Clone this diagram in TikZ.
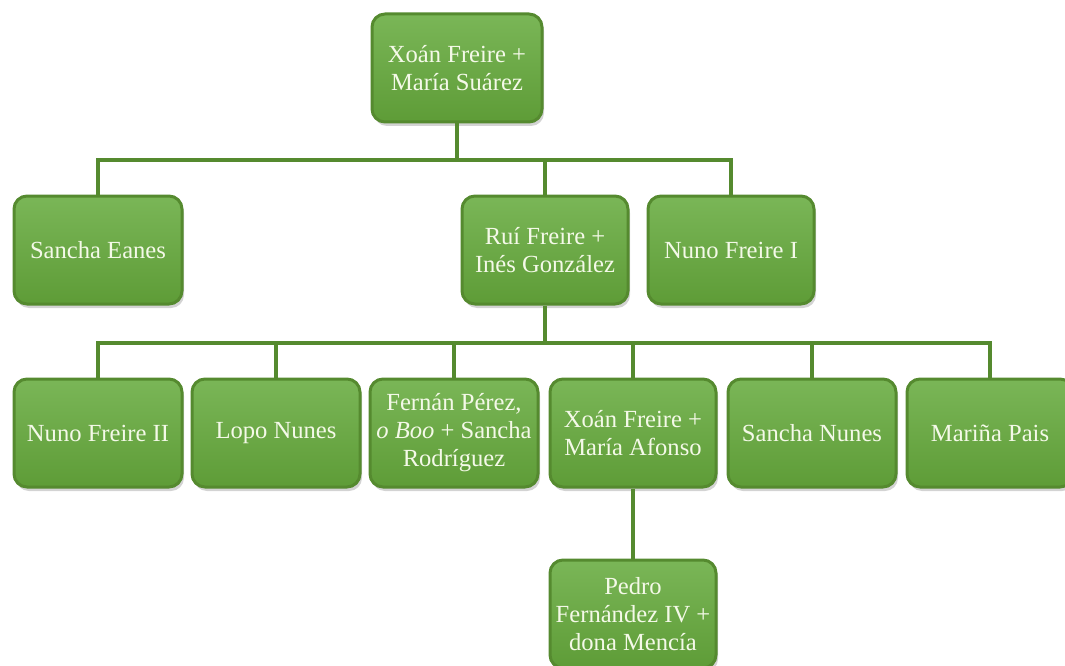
\documentclass[tikz,border=0pt]{standalone}
\usepackage{fontspec}
\setmainfont{Liberation Serif}
\usetikzlibrary{shadows}
\definecolor{boxtop}{HTML}{7AB657}
\definecolor{boxbot}{HTML}{5E9C37}
\definecolor{boxline}{HTML}{558A2F}
\definecolor{linkgreen}{HTML}{558A2F}
\definecolor{textcream}{HTML}{F4F9E8}
\tikzset{
  person/.style={draw=boxline, line width=3pt, rounded corners=13pt,
    top color=boxtop, bottom color=boxbot, text=textcream,
    minimum width=166pt, minimum height=108pt, align=center, inner sep=2pt,
    font=\fontsize{24.6}{28}\selectfont,
    drop shadow={opacity=0.35, shadow xshift=2pt, shadow yshift=-4pt}},
  link/.style={draw=linkgreen, line width=3.5pt}
}
\begin{document}
\begin{tikzpicture}[x=1pt, y=-1pt]
  \useasboundingbox (0,0) rectangle (1065,666);
  % first generation
  \node[person, minimum width=170pt] (xoanA) at (457,68) {Xoán Freire +\\María Suárez};
  % second generation
  \node[person, minimum width=168pt] (sanchaE) at (98,250) {Sancha Eanes};
  \node[person] (rui) at (545,250) {Ruí Freire +\\Inés González};
  \node[person] (nunoI) at (731,250) {Nuno Freire I};
  % third generation
  \node[person, minimum width=168pt] (nunoII) at (98,433) {Nuno Freire II};
  \node[person, minimum width=168pt] (lopo) at (276,433) {Lopo Nunes};
  \node[person, minimum width=168pt] (fernan) at (454,433) {Fernán Pérez,\\\textit{o Boo} + Sancha\\Rodríguez};
  \node[person] (xoanB) at (633,433) {Xoán Freire +\\María Afonso};
  \node[person, minimum width=168pt] (sanchaN) at (812,433) {Sancha Nunes};
  \node[person] (marina) at (990,433) {Mariña Pais};
  % fourth generation
  \node[person] (pedro) at (633,614) {Pedro\\Fernández IV +\\dona Mencía};
  % connectors
  \coordinate (busA) at (xoanA.south |- 0,160);
  \coordinate (busB) at (rui.south |- 0,343);
  \draw[link] (xoanA.south) -- (busA);
  \draw[link] (busA) -| (sanchaE.north);
  \draw[link] (busA) -| (rui.north);
  \draw[link] (busA) -| (nunoI.north);
  \draw[link] (rui.south) -- (busB);
  \foreach \kid in {nunoII, lopo, fernan, xoanB, sanchaN, marina}
    \draw[link] (busB) -| (\kid.north);
  \draw[link] (xoanB.south) -- (pedro.north);
\end{tikzpicture}
\end{document}
